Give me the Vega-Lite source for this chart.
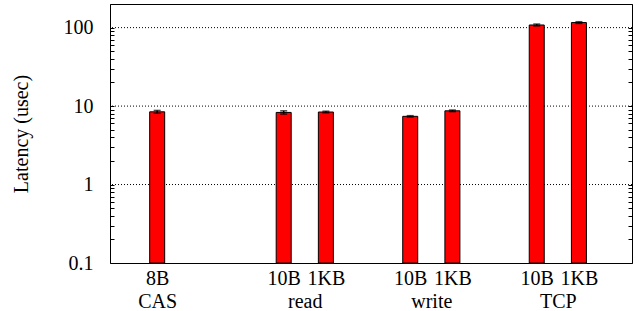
{
  "$schema": "https://vega.github.io/schema/vega-lite/v6.json",
  "width": 522,
  "height": 259,
  "autosize": "none",
  "padding": {"left": 110, "top": 4, "right": 7, "bottom": 48},
  "config": {
    "view": {"stroke": "black", "strokeWidth": 1},
    "font": "Liberation Serif",
    "axis": {
      "labelFont": "Liberation Serif",
      "titleFont": "Liberation Serif",
      "labelColor": "black",
      "titleColor": "black",
      "domainColor": "black",
      "tickColor": "black",
      "titleFontWeight": "normal"
    }
  },
  "data": {
    "values": [
      {"slot": 1, "op": "CAS", "size": "8B", "latency": 8.45, "lo": 8.1, "hi": 8.8},
      {"slot": 4, "op": "read", "size": "10B", "latency": 8.3, "lo": 7.9, "hi": 8.7},
      {"slot": 5, "op": "read", "size": "1KB", "latency": 8.4, "lo": 8.2, "hi": 8.6},
      {"slot": 7, "op": "write", "size": "10B", "latency": 7.4, "lo": 7.25, "hi": 7.55},
      {"slot": 8, "op": "write", "size": "1KB", "latency": 8.7, "lo": 8.5, "hi": 8.9},
      {"slot": 10, "op": "TCP", "size": "10B", "latency": 108, "lo": 105, "hi": 111},
      {"slot": 11, "op": "TCP", "size": "1KB", "latency": 116, "lo": 113, "hi": 119}
    ]
  },
  "resolve": {"axis": {"y": "independent"}},
  "layer": [
    {
      "data": {"values": [{"grid": 1}, {"grid": 10}, {"grid": 100}]},
      "mark": {"type": "rule", "strokeDash": [1, 2], "color": "black", "strokeWidth": 1},
      "encoding": {
        "y": {
          "field": "grid",
          "type": "quantitative",
          "scale": {"type": "log", "domain": [0.1, 200], "nice": false},
          "axis": {
            "orient": "left",
            "title": "Latency (usec)",
            "titleFontSize": 20,
            "titlePadding": 32,
            "values": [0.1,0.2,0.3,0.4,0.5,0.6,0.7,0.8,0.9,1,2,3,4,5,6,7,8,9,10,20,30,40,50,60,70,80,90,100,200],
            "labelExpr": "datum.value == 0.1 ? '0.1' : datum.value == 1 ? '1' : datum.value == 10 ? '10' : datum.value == 100 ? '100' : ''",
            "labelFontSize": 20,
            "labelPadding": 21,
            "labelOverlap": false,
            "tickSize": -4,
            "domain": false,
            "grid": false
          }
        }
      }
    },
    {
      "mark": {"type": "bar", "width": 15, "fill": "#ff0000", "stroke": "black", "strokeWidth": 1},
      "encoding": {
        "x": {
          "field": "slot",
          "type": "quantitative",
          "scale": {"domain": [0, 12.14], "nice": false, "zero": false},
          "axis": {
            "title": null,
            "values": [1, 4, 4.5, 5, 7, 7.5, 8, 10, 10.5, 11],
            "labelExpr": "datum.value == 1 ? ['8B', 'CAS'] : datum.value == 4.5 ? ['', 'read'] : datum.value == 7.5 ? ['', 'write'] : datum.value == 10.5 ? ['', 'TCP'] : (datum.value == 4 || datum.value == 7 || datum.value == 10) ? '10B' : '1KB'",
            "labelFontSize": 20,
            "labelLineHeight": 23,
            "labelPadding": 5,
            "labelOverlap": false,
            "ticks": false,
            "domain": false,
            "grid": false
          }
        },
        "y": {
          "field": "latency",
          "type": "quantitative",
          "scale": {"type": "log", "domain": [0.1, 200], "nice": false},
          "axis": {
            "orient": "right",
            "title": null,
            "values": [0.1,0.2,0.3,0.4,0.5,0.6,0.7,0.8,0.9,1,2,3,4,5,6,7,8,9,10,20,30,40,50,60,70,80,90,100,200],
            "labels": false,
            "tickSize": -4,
            "domain": false,
            "grid": false
          }
        },
        "y2": {"datum": 0.1}
      }
    },
    {
      "mark": {"type": "rule", "color": "black", "strokeWidth": 1.5},
      "encoding": {
        "x": {"field": "slot", "type": "quantitative"},
        "y": {"field": "lo", "type": "quantitative", "axis": null},
        "y2": {"field": "hi"}
      }
    },
    {
      "mark": {"type": "tick", "orient": "horizontal", "color": "black", "size": 7, "thickness": 1.5},
      "encoding": {
        "x": {"field": "slot", "type": "quantitative"},
        "y": {"field": "lo", "type": "quantitative", "axis": null}
      }
    },
    {
      "mark": {"type": "tick", "orient": "horizontal", "color": "black", "size": 7, "thickness": 1.5},
      "encoding": {
        "x": {"field": "slot", "type": "quantitative"},
        "y": {"field": "hi", "type": "quantitative", "axis": null}
      }
    }
  ]
}
